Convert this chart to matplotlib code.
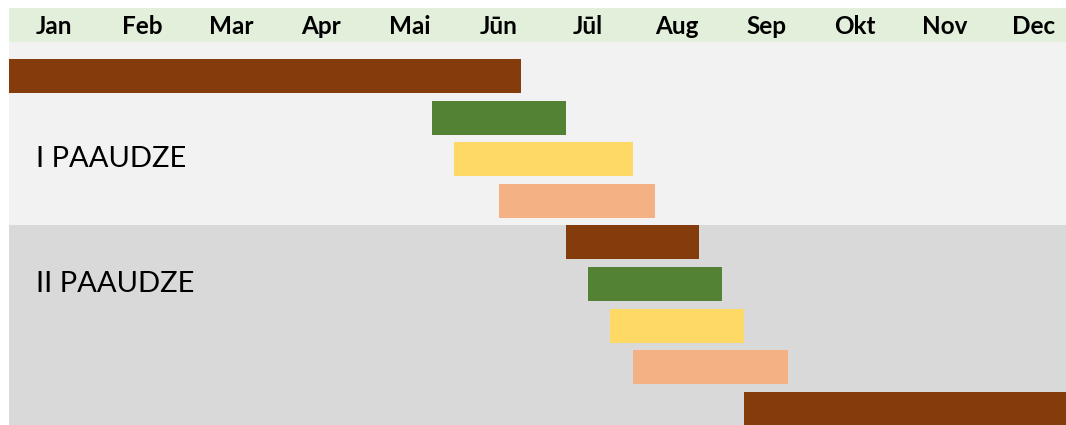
import matplotlib
matplotlib.use("Agg")
import matplotlib.pyplot as plt

# Calendar: 12 months, each split into 4 quarter-month steps
months = ["Jan", "Feb", "Mar", "Apr", "Mai", "Jūn", "Jūl", "Aug", "Sep", "Okt", "Nov", "Dec"]

# Bars, top to bottom: start and end in quarter-months from 1 January
bar_start = [0, 19, 20, 22, 25, 26, 27, 28, 33]
bar_end = [23, 25, 28, 29, 31, 32, 33, 35, 48]
bar_colors = ["#843C0C", "#548235", "#FFD966", "#F4B183",
              "#843C0C", "#548235", "#FFD966", "#F4B183", "#843C0C"]

generation_labels = ["I PAAUDZE", "II PAAUDZE"]
generation_rows = [2, 5]

W, H = 1066, 425
fig = plt.figure(figsize=(W / 100, H / 100), dpi=100)
fig.patch.set_facecolor("white")

x0_px = 9
unit_px = 22.27          # pixels per quarter-month
row_px = 41.6            # pixels per row
row0_px = 76             # centre of first row

ax = fig.add_axes([x0_px / W, 0, (W - x0_px) / W, 1])
ax.set_xlim(0, (W - x0_px) / unit_px)
ax.set_ylim((H - row0_px) / row_px, (0 - row0_px) / row_px)
ax.axis("off")

def py(y):
    return (y - row0_px) / row_px

# Background bands: month header, first and second generation
ax.axhspan(py(8), py(42), color="#E2EFDA", lw=0, zorder=0)
ax.axhspan(py(42), py(225), color="#F2F2F2", lw=0, zorder=0)
ax.axhspan(py(225), py(H), color="#D9D9D9", lw=0, zorder=0)

# Month labels in the header
for i, m in enumerate(months):
    ax.text(4 * i + 2, py(27), m, ha="center", va="center",
            fontsize=17.5, fontweight="bold", family=["Lato", "DejaVu Sans"],
            color="black", zorder=3)

# Gantt bars
rows = list(range(len(bar_start)))
ax.barh(rows, [e - s for s, e in zip(bar_start, bar_end)], left=bar_start,
        height=34 / row_px, color=bar_colors, lw=0, zorder=2)

# Generation labels
for lab, r in zip(generation_labels, generation_rows):
    ax.text((36 - x0_px) / unit_px, r, lab, ha="left", va="center",
            fontsize=21, family=["Lato", "DejaVu Sans"], color="black", zorder=3)

fig.savefig("out.png", dpi=100, facecolor="white")
